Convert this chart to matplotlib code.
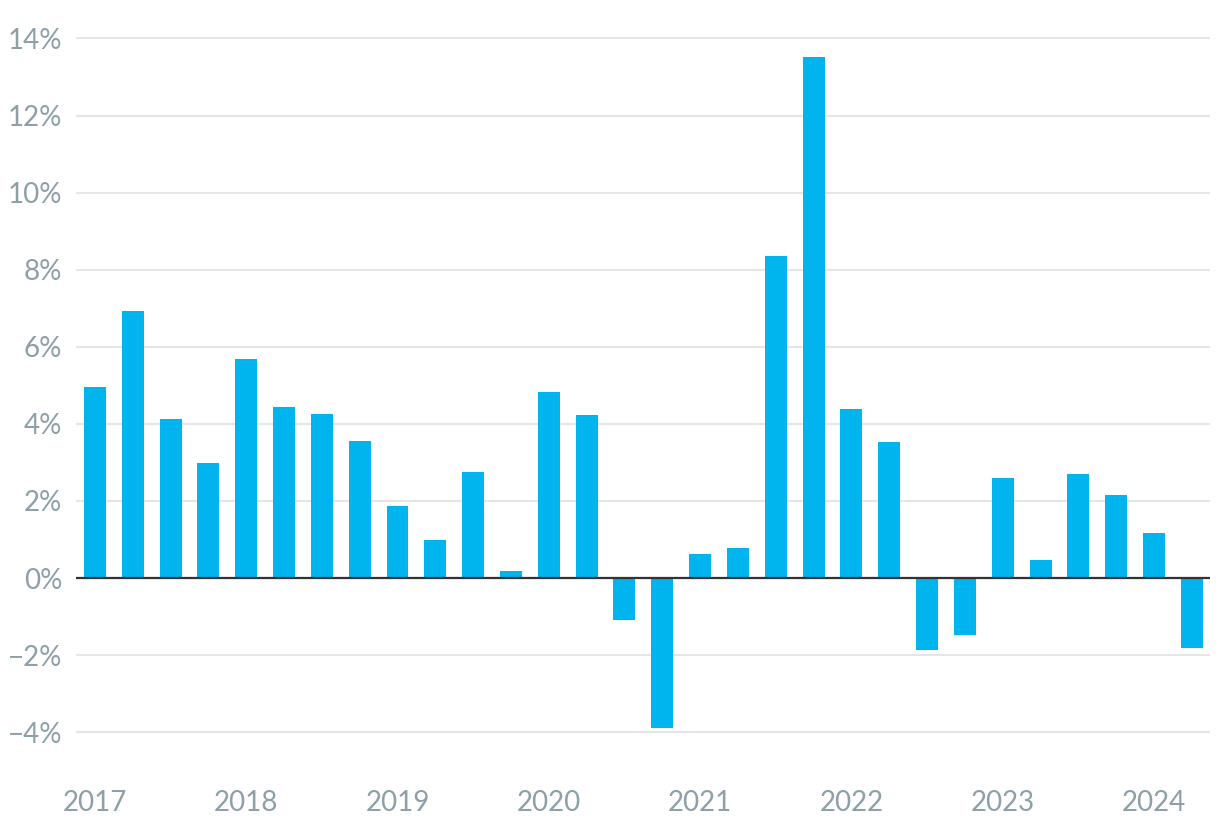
import matplotlib.pyplot as plt
import numpy as np

plt.rcParams['font.family'] = ['Lato', 'DejaVu Sans']

years = ["2017", "2018", "2019", "2020", "2021", "2022", "2023", "2024"]
growth = [
    4.95, 6.92, 4.12, 2.98,
    5.68, 4.43, 4.25, 3.55,
    1.87, 0.99, 2.75, 0.18,
    4.82, 4.23, -1.09, -3.89,
    0.62, 0.78, 8.35, 13.53,
    4.38, 3.53, -1.87, -1.48,
    2.59, 0.47, 2.70, 2.15,
    1.17, -1.81,
]
yticks = [-4, -2, 0, 2, 4, 6, 8, 10, 12, 14]

x = np.arange(len(growth))
label_color = "#8d9fa7"

fig = plt.figure(figsize=(12.2, 8.36), dpi=100)
ax = fig.add_axes([0.0623, 0.078, 0.9295, 0.899])

ax.bar(x, growth, width=0.58, color="#00b5ee", zorder=3)
ax.axhline(0, color="#333333", linewidth=1.6, zorder=4)

ax.set_xlim(-0.5, 29.48)
ax.set_ylim(-5, 14.5)
ax.set_yticks(yticks)
ax.set_yticklabels([f"{v}%".replace("-", "\u2212") for v in yticks])
ax.set_xticks(x[::4])
ax.set_xticklabels(years)

ax.grid(axis="y", color="#e6e6e6", linewidth=1.5, zorder=0)
for s in ax.spines.values():
    s.set_visible(False)
ax.tick_params(axis="both", length=0, labelsize=20, labelcolor=label_color)
ax.tick_params(axis="y", pad=10)
ax.tick_params(axis="x", pad=14)

fig.savefig("out.png", dpi=100)
plt.close(fig)
